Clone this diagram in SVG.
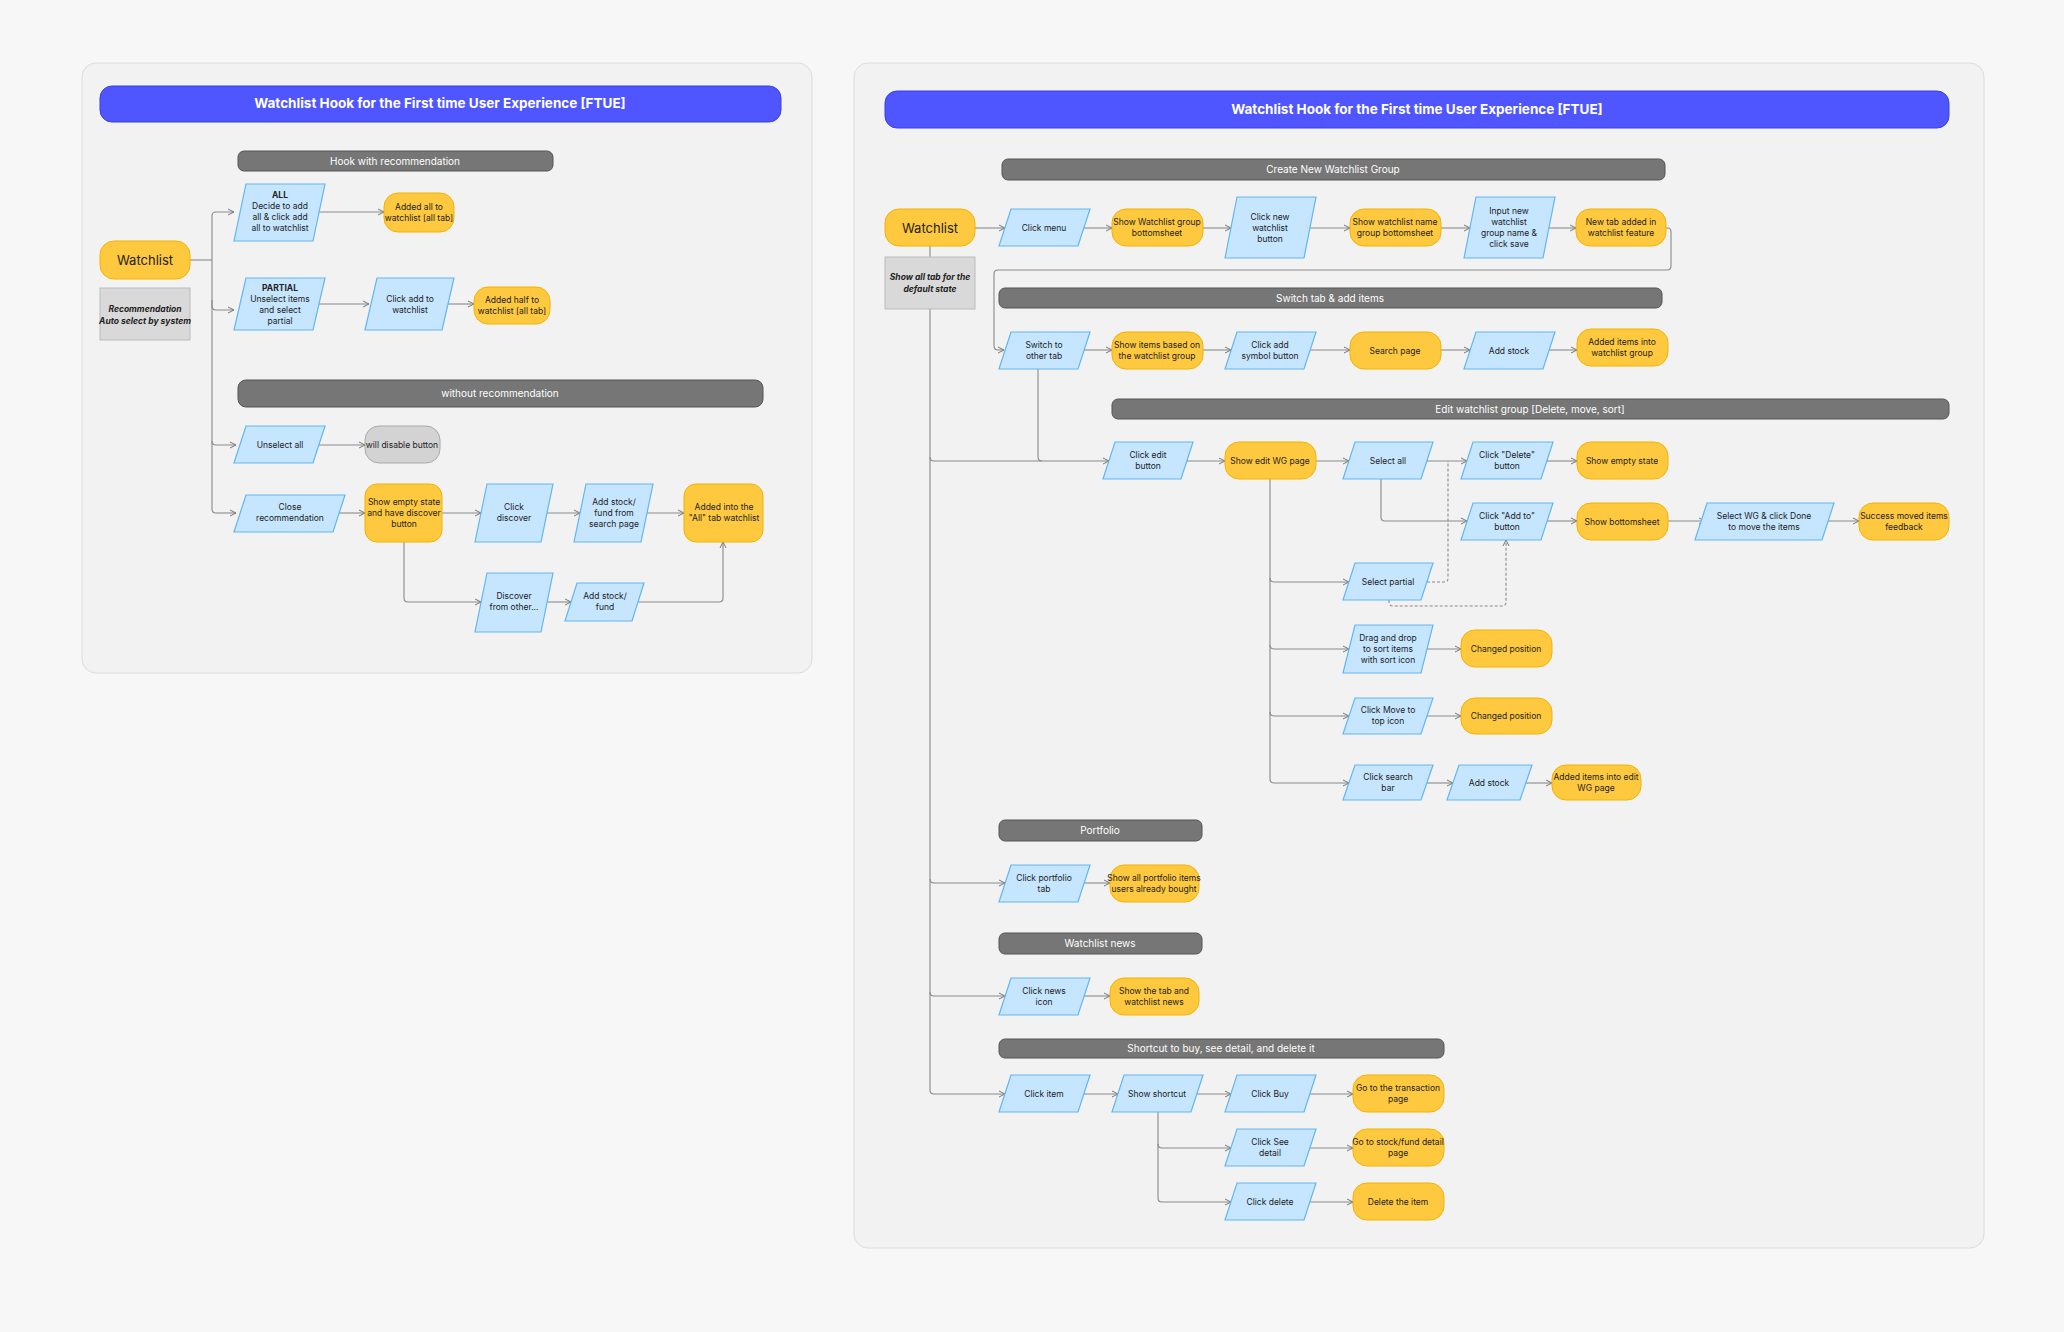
<svg xmlns="http://www.w3.org/2000/svg" width="2064" height="1332" viewBox="0 0 2064 1332">
<style>
text{font-family:Inter,"Noto Sans","Liberation Sans",sans-serif;font-size:8.5px;fill:#222;text-anchor:middle}
.p{fill:#C6E6FF;stroke:#62B6F2;stroke-width:1.2}
.y{fill:#FFC93F;stroke:#F2B300;stroke-width:1}
.g{fill:#D3D3D3;stroke:#AAAAAA;stroke-width:1}
.bar{fill:#767676;stroke:#555;stroke-width:1}
.bt{fill:#fff;font-size:10px}
.tt{fill:#fff;font-size:13.5px;font-weight:700}
.big{font-size:13px}
.note{fill:#D9D9D9;stroke:#BBB}
.nt{font-style:italic;font-weight:700;font-size:8.5px}
.c path{fill:none;stroke:#8A8A8A;stroke-width:1.1;marker-end:url(#a)}
.c path.n{marker-end:none}
.c path.d{stroke-dasharray:3 2}
</style>
<defs><marker id="a" markerWidth="8" markerHeight="8" refX="7" refY="4" orient="auto" markerUnits="userSpaceOnUse"><path d="M1,1 L7,4 L1,7" fill="none" stroke="#777" stroke-width="1"/></marker></defs>
<rect width="2064" height="1332" fill="#F7F7F7"/>
<rect x="82" y="63" width="730" height="610" rx="14" fill="#F2F2F2" stroke="#DCDCDC"/>
<rect x="854" y="63" width="1130" height="1185" rx="14" fill="#F2F2F2" stroke="#DCDCDC"/>

<g id="title-left"><rect x="100" y="86" width="681" height="36" rx="12" fill="#4F55FF" stroke="#3A3FE0"/><text class="tt" x="440" y="108">Watchlist Hook for the First time User Experience [FTUE]</text></g>
<g id="bar-hook"><rect class="bar" x="238" y="151" width="315" height="20" rx="6"/><text class="bt" x="395" y="165">Hook with recommendation</text></g>
<g id="bar-without"><rect class="bar" x="238" y="380" width="525" height="27" rx="8"/><text class="bt" x="500" y="397">without recommendation</text></g>

<g class="c" id="connectors-left">
<path class="n" d="M190,260 H212"/>
<path d="M212,260 V216 Q212,212 216,212 H234"/>
<path d="M212,260 V306 Q212,310 216,310 H234"/>
<path class="n" d="M212,300 V509 Q212,513 216,513"/>
<path d="M212,441 Q212,445 216,445 H236"/>
<path d="M216,513 H236"/>
<path d="M313,212 H384"/>
<path d="M319,304 H369"/>
<path d="M448,304 H474"/>
<path d="M319,445 H365"/>
<path d="M339,513 H365"/>
<path d="M442,513 H481"/>
<path d="M547,513 H580"/>
<path d="M647,513 H684"/>
<path d="M404,542 V598 Q404,602 408,602 H481"/>
<path d="M547,602 H571"/>
<path d="M638,602 H719 Q723,602 723,598 V542"/>
</g>

<g id="l-watchlist"><rect class="y" x="100" y="241" width="90" height="38" rx="14"/><text class="big" x="145" y="265">Watchlist</text></g>
<g id="l-rec"><rect class="note" x="100" y="288" width="90" height="52"/><text class="nt" x="145" y="312">Recommendation</text><text class="nt" x="145" y="324">Auto select by system</text></g>
<g id="l-all"><path class="p" d="M246,184 H325 L313,241 H234 Z"/><text x="280" y="198" font-weight="700">ALL</text><text x="280" y="209">Decide to add</text><text x="280" y="220">all &amp; click add</text><text x="280" y="231">all to watchlist</text></g>
<g id="l-addedall"><rect class="y" x="384" y="193" width="70" height="39" rx="14"/><text x="419" y="210">Added all to</text><text x="419" y="221">watchlist [all tab]</text></g>
<g id="l-partial"><path class="p" d="M246,278 H325 L313,330 H234 Z"/><text x="280" y="291" font-weight="700">PARTIAL</text><text x="280" y="302">Unselect items</text><text x="280" y="313">and select</text><text x="280" y="324">partial</text></g>
<g id="l-clickadd"><path class="p" d="M377,278 H454 L442,330 H365 Z"/><text x="410" y="302">Click add to</text><text x="410" y="313">watchlist</text></g>
<g id="l-addedhalf"><rect class="y" x="474" y="287" width="76" height="37" rx="14"/><text x="512" y="303">Added half to</text><text x="512" y="314">watchlist [all tab]</text></g>
<g id="l-unselect"><path class="p" d="M246,426 H325 L313,463 H234 Z"/><text x="280" y="448">Unselect all</text></g>
<g id="l-disable"><rect class="g" x="365" y="426" width="75" height="37" rx="14"/><text x="402" y="448">will disable button</text></g>
<g id="l-close"><path class="p" d="M246,495 H345 L333,532 H234 Z"/><text x="290" y="510">Close</text><text x="290" y="521">recommendation</text></g>
<g id="l-empty"><rect class="y" x="365" y="484" width="77" height="58" rx="12"/><text x="404" y="505">Show empty state</text><text x="404" y="516">and have discover</text><text x="404" y="527">button</text></g>
<g id="l-discover"><path class="p" d="M487,484 H553 L541,542 H475 Z"/><text x="514" y="510">Click</text><text x="514" y="521">discover</text></g>
<g id="l-addsearch"><path class="p" d="M586,484 H653 L641,542 H574 Z"/><text x="614" y="505">Add stock/</text><text x="614" y="516">fund from</text><text x="614" y="527">search page</text></g>
<g id="l-addedinto"><rect class="y" x="684" y="484" width="79" height="58" rx="12"/><text x="724" y="510">Added into the</text><text x="724" y="521">"All" tab watchlist</text></g>
<g id="l-discother"><path class="p" d="M487,573 H553 L541,632 H475 Z"/><text x="514" y="599">Discover</text><text x="514" y="610">from other...</text></g>
<g id="l-addfund"><path class="p" d="M577,583 H644 L632,621 H565 Z"/><text x="605" y="599">Add stock/</text><text x="605" y="610">fund</text></g>

<!-- RIGHT -->
<g id="title-right"><rect x="885" y="91" width="1064" height="37" rx="12" fill="#4F55FF" stroke="#3A3FE0"/><text class="tt" x="1417" y="114">Watchlist Hook for the First time User Experience [FTUE]</text></g>
<g id="bar-create"><rect class="bar" x="1002" y="159" width="663" height="21" rx="6"/><text class="bt" x="1333" y="173">Create New Watchlist Group</text></g>
<g id="bar-switch"><rect class="bar" x="999" y="288" width="663" height="20" rx="6"/><text class="bt" x="1330" y="302">Switch tab &amp; add items</text></g>
<g id="bar-edit"><rect class="bar" x="1112" y="399" width="837" height="20" rx="6"/><text class="bt" x="1530" y="413">Edit watchlist group [Delete, move, sort]</text></g>
<g id="bar-portfolio"><rect class="bar" x="999" y="820" width="203" height="21" rx="6"/><text class="bt" x="1100" y="834">Portfolio</text></g>
<g id="bar-news"><rect class="bar" x="999" y="933" width="203" height="21" rx="6"/><text class="bt" x="1100" y="947">Watchlist news</text></g>
<g id="bar-shortcut"><rect class="bar" x="999" y="1039" width="445" height="19" rx="6"/><text class="bt" x="1221" y="1052">Shortcut to buy, see detail, and delete it</text></g>

<g class="c" id="connectors-right">
<path class="n" d="M930,246 V1090"/>
<path d="M975,228 H1005"/>
<path d="M1084,228 H1112"/>
<path d="M1203,228 H1231"/>
<path d="M1310,228 H1350"/>
<path d="M1441,228 H1470"/>
<path d="M1549,228 H1576"/>
<path d="M1666,228 H1668 Q1671,228 1671,232 V266 Q1671,270 1667,270 H998 Q994,270 994,274 V346 Q994,350 998,350 H1004"/>
<path d="M1084,350 H1112"/>
<path d="M1203,350 H1231"/>
<path d="M1310,350 H1350"/>
<path d="M1441,350 H1470"/>
<path d="M1549,350 H1577"/>
<path class="n" d="M1038,369 V457 Q1038,461 1042,461"/>
<path d="M930,457 Q930,461 934,461 H1109"/>
<path d="M1187,461 H1225"/>
<path d="M1316,461 H1349"/>
<path d="M1427,461 H1467"/>
<path d="M1547,461 H1577"/>
<path d="M1381,479 V517 Q1381,521 1385,521 H1467"/>
<path d="M1547,521 H1577"/>
<path d="M1668,521 H1705"/>
<path d="M1824,521 H1859"/>
<path class="n" d="M1270,479 V779 Q1270,783 1274,783"/>
<path d="M1270,578 Q1270,582 1274,582 H1349"/>
<path d="M1270,645 Q1270,649 1274,649 H1349"/>
<path d="M1270,712 Q1270,716 1274,716 H1349"/>
<path d="M1274,783 H1349"/>
<path d="M1427,649 H1461"/>
<path d="M1427,716 H1461"/>
<path d="M1427,783 H1453"/>
<path d="M1526,783 H1552"/>
<path class="n d" d="M1427,582 H1445 Q1448,582 1448,578 V461"/>
<path class="d" d="M1389,600 V602 Q1389,606 1393,606 H1502 Q1506,606 1506,602 V540"/>
<path d="M930,879 Q930,883 934,883 H1005"/>
<path d="M1084,883 H1110"/>
<path d="M930,992 Q930,996 934,996 H1005"/>
<path d="M1084,996 H1110"/>
<path d="M930,1090 Q930,1094 934,1094 H1005"/>
<path d="M1084,1094 H1118"/>
<path d="M1197,1094 H1231"/>
<path d="M1310,1094 H1353"/>
<path class="n" d="M1158,1112 V1198 Q1158,1202 1162,1202"/>
<path d="M1158,1144 Q1158,1148 1162,1148 H1231"/>
<path d="M1162,1202 H1231"/>
<path d="M1310,1148 H1353"/>
<path d="M1310,1202 H1353"/>
</g>

<g id="r-watchlist"><rect class="y" x="885" y="209" width="90" height="37" rx="14"/><text class="big" x="930" y="233">Watchlist</text></g>
<g id="r-showall"><rect class="note" x="885" y="257" width="90" height="52"/><text class="nt" x="930" y="280">Show all tab for the</text><text class="nt" x="930" y="292">default state</text></g>
<g id="r-clickmenu"><path class="p" d="M1011,209 H1090 L1078,246 H999 Z"/><text x="1044" y="231">Click menu</text></g>
<g id="r-showgroup"><rect class="y" x="1112" y="209" width="91" height="37" rx="14"/><text x="1157" y="225">Show Watchlist group</text><text x="1157" y="236">bottomsheet</text></g>
<g id="r-clicknew"><path class="p" d="M1237,197 H1316 L1304,258 H1225 Z"/><text x="1270" y="220">Click new</text><text x="1270" y="231">watchlist</text><text x="1270" y="242">button</text></g>
<g id="r-showname"><rect class="y" x="1350" y="209" width="91" height="37" rx="14"/><text x="1395" y="225">Show watchlist name</text><text x="1395" y="236">group bottomsheet</text></g>
<g id="r-input"><path class="p" d="M1476,197 H1555 L1543,258 H1464 Z"/><text x="1509" y="214">Input new</text><text x="1509" y="225">watchlist</text><text x="1509" y="236">group name &amp;</text><text x="1509" y="247">click save</text></g>
<g id="r-newtab"><rect class="y" x="1576" y="209" width="90" height="37" rx="14"/><text x="1621" y="225">New tab added in</text><text x="1621" y="236">watchlist feature</text></g>

<g id="r-switch"><path class="p" d="M1011,332 H1090 L1078,369 H999 Z"/><text x="1044" y="348">Switch to</text><text x="1044" y="359">other tab</text></g>
<g id="r-showitems"><rect class="y" x="1112" y="332" width="91" height="37" rx="14"/><text x="1157" y="348">Show items based on</text><text x="1157" y="359">the watchlist group</text></g>
<g id="r-addsymbol"><path class="p" d="M1237,332 H1316 L1304,369 H1225 Z"/><text x="1270" y="348">Click add</text><text x="1270" y="359">symbol button</text></g>
<g id="r-search"><rect class="y" x="1350" y="332" width="91" height="37" rx="14"/><text x="1395" y="354">Search page</text></g>
<g id="r-addstock"><path class="p" d="M1476,332 H1555 L1543,369 H1464 Z"/><text x="1509" y="354">Add stock</text></g>
<g id="r-addeditems"><rect class="y" x="1577" y="329" width="91" height="37" rx="14"/><text x="1622" y="345">Added items into</text><text x="1622" y="356">watchlist group</text></g>

<g id="r-clickedit"><path class="p" d="M1115,442 H1193 L1181,479 H1103 Z"/><text x="1148" y="458">Click edit</text><text x="1148" y="469">button</text></g>
<g id="r-showedit"><rect class="y" x="1225" y="442" width="91" height="37" rx="14"/><text x="1270" y="464">Show edit WG page</text></g>
<g id="r-selectall"><path class="p" d="M1355,442 H1433 L1421,479 H1343 Z"/><text x="1388" y="464">Select all</text></g>
<g id="r-delete"><path class="p" d="M1473,442 H1553 L1541,479 H1461 Z"/><text x="1507" y="458">Click "Delete"</text><text x="1507" y="469">button</text></g>
<g id="r-emptystate"><rect class="y" x="1577" y="442" width="91" height="37" rx="14"/><text x="1622" y="464">Show empty state</text></g>
<g id="r-addto"><path class="p" d="M1473,503 H1553 L1541,540 H1461 Z"/><text x="1507" y="519">Click "Add to"</text><text x="1507" y="530">button</text></g>
<g id="r-bottomsheet"><rect class="y" x="1577" y="503" width="91" height="37" rx="14"/><text x="1622" y="525">Show bottomsheet</text></g>
<g id="r-selectwg"><path class="p" d="M1707,503 H1834 L1822,540 H1695 Z"/><text x="1764" y="519">Select WG &amp; click Done</text><text x="1764" y="530">to move the items</text></g>
<g id="r-success"><rect class="y" x="1859" y="503" width="90" height="37" rx="14"/><text x="1904" y="519">Success moved items</text><text x="1904" y="530">feedback</text></g>
<g id="r-selectpartial"><path class="p" d="M1355,563 H1433 L1421,600 H1343 Z"/><text x="1388" y="585">Select partial</text></g>
<g id="r-drag"><path class="p" d="M1355,625 H1433 L1421,673 H1343 Z"/><text x="1388" y="641">Drag and drop</text><text x="1388" y="652">to sort items</text><text x="1388" y="663">with sort icon</text></g>
<g id="r-changed1"><rect class="y" x="1461" y="630" width="91" height="37" rx="14"/><text x="1506" y="652">Changed position</text></g>
<g id="r-movetop"><path class="p" d="M1355,698 H1433 L1421,734 H1343 Z"/><text x="1388" y="713">Click Move to</text><text x="1388" y="724">top icon</text></g>
<g id="r-changed2"><rect class="y" x="1461" y="698" width="91" height="36" rx="14"/><text x="1506" y="719">Changed position</text></g>
<g id="r-searchbar"><path class="p" d="M1355,765 H1433 L1421,800 H1343 Z"/><text x="1388" y="780">Click search</text><text x="1388" y="791">bar</text></g>
<g id="r-addstock2"><path class="p" d="M1459,765 H1532 L1520,800 H1447 Z"/><text x="1489" y="786">Add stock</text></g>
<g id="r-addededit"><rect class="y" x="1552" y="765" width="89" height="35" rx="14"/><text x="1596" y="780">Added items into edit</text><text x="1596" y="791">WG page</text></g>

<g id="r-portfoliotab"><path class="p" d="M1011,865 H1090 L1078,902 H999 Z"/><text x="1044" y="881">Click portfolio</text><text x="1044" y="892">tab</text></g>
<g id="r-showportfolio"><rect class="y" x="1110" y="865" width="89" height="37" rx="14"/><text x="1154" y="881">Show all portfolio items</text><text x="1154" y="892">users already bought</text></g>
<g id="r-newsicon"><path class="p" d="M1011,978 H1090 L1078,1015 H999 Z"/><text x="1044" y="994">Click news</text><text x="1044" y="1005">icon</text></g>
<g id="r-shownews"><rect class="y" x="1110" y="978" width="89" height="37" rx="14"/><text x="1154" y="994">Show the tab and</text><text x="1154" y="1005">watchlist news</text></g>

<g id="r-clickitem"><path class="p" d="M1011,1075 H1090 L1078,1112 H999 Z"/><text x="1044" y="1097">Click item</text></g>
<g id="r-shortcut"><path class="p" d="M1124,1075 H1203 L1191,1112 H1112 Z"/><text x="1157" y="1097">Show shortcut</text></g>
<g id="r-buy"><path class="p" d="M1237,1075 H1316 L1304,1112 H1225 Z"/><text x="1270" y="1097">Click Buy</text></g>
<g id="r-transaction"><rect class="y" x="1353" y="1075" width="91" height="37" rx="14"/><text x="1398" y="1091">Go to the transaction</text><text x="1398" y="1102">page</text></g>
<g id="r-seedetail"><path class="p" d="M1237,1129 H1316 L1304,1166 H1225 Z"/><text x="1270" y="1145">Click See</text><text x="1270" y="1156">detail</text></g>
<g id="r-detailpage"><rect class="y" x="1353" y="1129" width="91" height="37" rx="14"/><text x="1398" y="1145">Go to stock/fund detail</text><text x="1398" y="1156">page</text></g>
<g id="r-clickdelete"><path class="p" d="M1237,1183 H1316 L1304,1220 H1225 Z"/><text x="1270" y="1205">Click delete</text></g>
<g id="r-deleteitem"><rect class="y" x="1353" y="1183" width="91" height="37" rx="14"/><text x="1398" y="1205">Delete the item</text></g>
</svg>
